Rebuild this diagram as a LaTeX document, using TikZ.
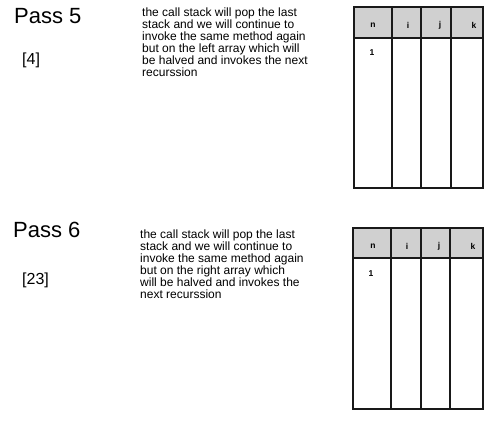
\documentclass[tikz,border=0pt]{standalone}
\usepackage{fontspec}
\setmainfont{Liberation Sans}
\definecolor{headGrey}{HTML}{D0D0D0}
\tikzset{
  passlabel/.style={anchor=west, inner sep=0pt, font=\fontsize{22}{24}\selectfont},
  arraylabel/.style={anchor=west, inner sep=0pt, font=\fontsize{16}{18}\selectfont},
  notetext/.style={anchor=north west, align=left, inner sep=0pt, font=\fontsize{12}{12}\selectfont},
  headcell/.style={inner sep=0pt, font=\bfseries\fontsize{8.5}{9}\selectfont},
  gridline/.style={draw=black!90, line width=1.2pt},
}

\begin{document}
\begin{tikzpicture}[x=1pt,y=-1pt]
    \useasboundingbox (0,0) rectangle (500,429);

    % Pass 5 - left half
    \node[passlabel] (pass5) at (14,16) {Pass 5};
    \node[arraylabel] (arr5) at (22,60) {[4]};
    \node[notetext] (note5) at (142,8) {the call stack will pop the last\\stack and we will continue to\\invoke the same method again\\but on the left array which will\\be halved and invokes the next\\recurssion};

    % Pass 5 - table
    \fill[headGrey] (354,7) rectangle (483,38);
    \draw[gridline] (354,7) rectangle (483,188);
    \draw[gridline] (354,38) -- (483,38);
    \draw[gridline] (392,7) -- (392,188);
    \draw[gridline] (421,7) -- (421,188);
    \draw[gridline] (451,7) -- (451,188);
    \node[headcell] (n5) at (373,25) {n};
    \node[headcell] (i5) at (408,25) {i};
    \node[headcell] (j5) at (440,25) {j};
    \node[headcell] (k5) at (474,25) {k};
    \node[headcell] (val5) at (372,53) {1};

    % Pass 6 - right half
    \node[passlabel] (pass6) at (13,230) {Pass 6};
    \node[arraylabel] (arr6) at (22,280) {[23]};
    \node[notetext] (note6) at (140,230) {the call stack will pop the last\\stack and we will continue to\\invoke the same method again\\but on the right array which\\will be halved and invokes the\\next recurssion};

    % Pass 6 - table
    \fill[headGrey] (353,228) rectangle (483,258);
    \draw[gridline] (353,228) rectangle (483,409);
    \draw[gridline] (353,258) -- (483,258);
    \draw[gridline] (391,228) -- (391,409);
    \draw[gridline] (421,228) -- (421,409);
    \draw[gridline] (450,228) -- (450,409);
    \node[headcell] (n6) at (373,246) {n};
    \node[headcell] (i6) at (407,246) {i};
    \node[headcell] (j6) at (439,246) {j};
    \node[headcell] (k6) at (473,246) {k};
    \node[headcell] (val6) at (371,274) {1};
\end{tikzpicture}
\end{document}
